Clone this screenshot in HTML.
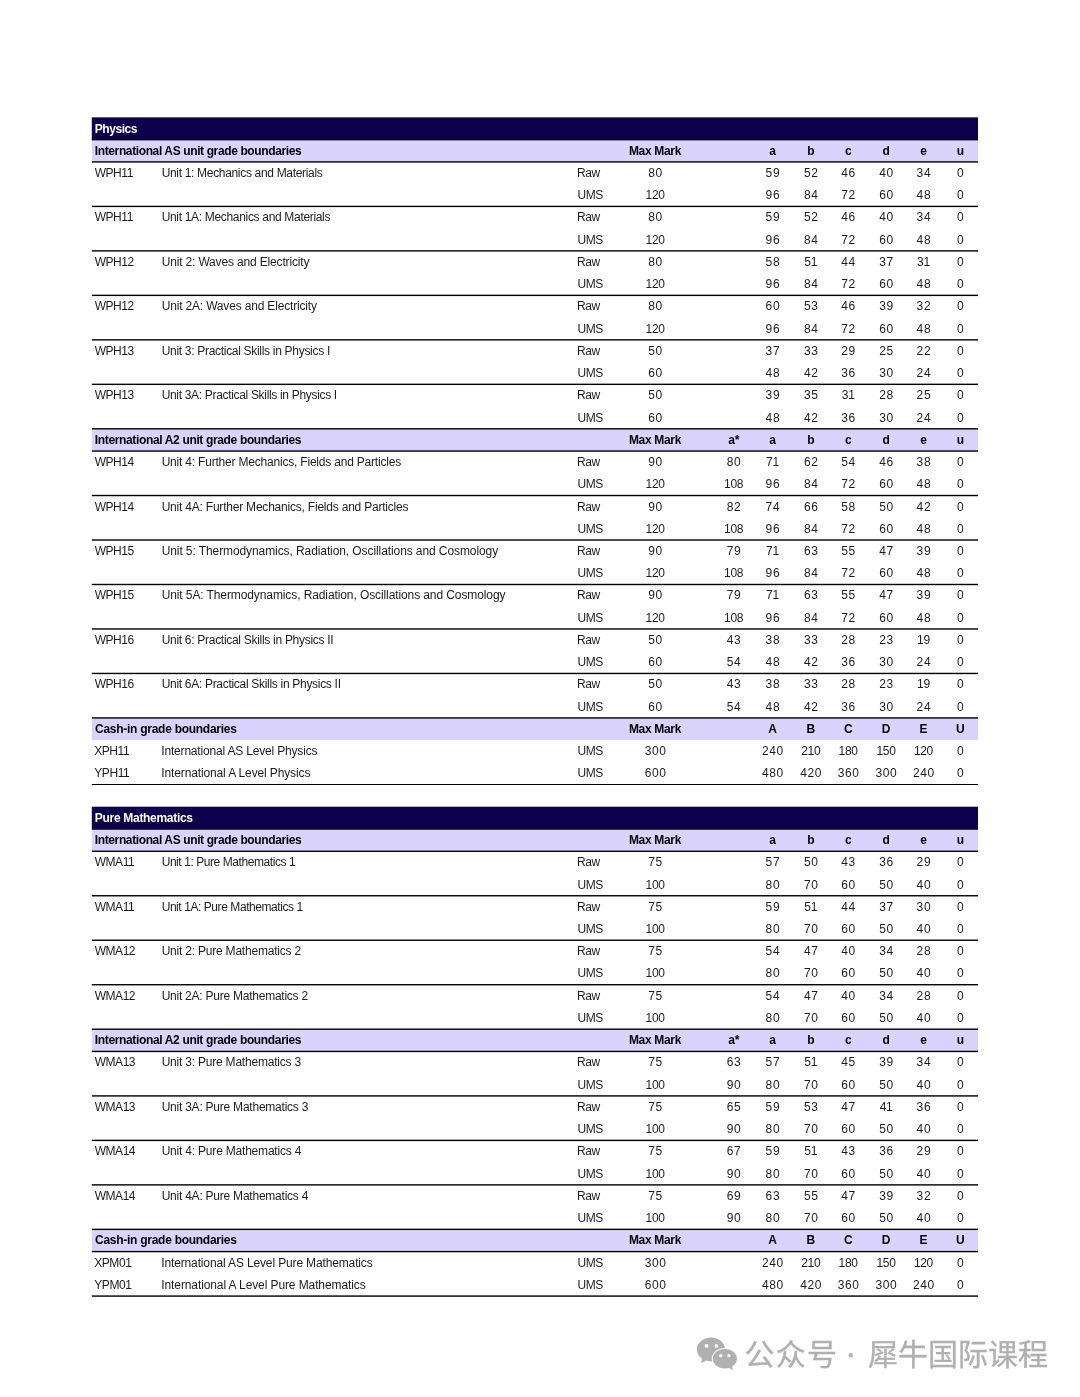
<!DOCTYPE html>
<html lang="en"><head><meta charset="utf-8"><title>Grade boundaries</title>
<style>
html,body{margin:0;padding:0;background:#fff}
body{width:1080px;height:1397px;position:relative;overflow:hidden;font-family:"Liberation Sans","Noto Sans CJK SC",sans-serif;font-size:12px;color:#1c1c1c}
#shapes{position:absolute;left:0;top:0;width:1080px;height:1397px}
.row{position:absolute;left:0;width:1080px;height:22.24px;line-height:22.24px;white-space:nowrap}
.row span{position:absolute;top:0;height:22.24px}
.row .c{width:60px;text-align:center;letter-spacing:.6px;text-indent:.6px}
.row .c.t{letter-spacing:-.3px;text-indent:-.3px}
.row .c.b{letter-spacing:0;text-indent:0}
.b{font-weight:bold;font-size:12px;color:#000}

.ttl .b{color:#fff}
#wm{position:absolute;left:0;top:0;width:1080px;height:0}
#wx{position:absolute;left:694px;top:1333px}
.wmt{position:absolute;left:744.5px;top:1334.5px;height:40px;line-height:40px;white-space:nowrap;color:#b0b0b0;font-family:"Liberation Sans","Noto Sans CJK SC",sans-serif;font-size:30px;word-spacing:2.2px;-webkit-text-stroke:.35px #b0b0b0}
.g1{letter-spacing:1.2px}
.dot{position:relative;left:-2.4px;top:-0.8px;font-size:34px;line-height:30px;margin-right:-1.3px}
</style></head>
<body>
<svg id="shapes" width="1080" height="1397" viewBox="0 0 1080 1397">
<rect x="91.8" y="117.35" width="886.2" height="22.24" fill="#0d004d"/>
<rect x="91.8" y="139.59" width="886.2" height="22.24" fill="#d9d3fe"/>
<rect x="91.8" y="428.71" width="886.2" height="22.24" fill="#d9d3fe"/>
<rect x="91.8" y="717.83" width="886.2" height="22.24" fill="#d9d3fe"/>
<rect x="91.8" y="806.7" width="886.2" height="22.24" fill="#0d004d"/>
<rect x="91.8" y="828.94" width="886.2" height="22.24" fill="#d9d3fe"/>
<rect x="91.8" y="1029.1" width="886.2" height="22.24" fill="#d9d3fe"/>
<rect x="91.8" y="1229.26" width="886.2" height="22.24" fill="#d9d3fe"/>
<rect x="91.8" y="138.99" width="886.2" height="1.4" fill="#000"/>
<rect x="91.8" y="161.23" width="886.2" height="1.4" fill="#000"/>
<rect x="91.8" y="205.71" width="886.2" height="1.4" fill="#000"/>
<rect x="91.8" y="250.19" width="886.2" height="1.4" fill="#000"/>
<rect x="91.8" y="294.67" width="886.2" height="1.4" fill="#000"/>
<rect x="91.8" y="339.15" width="886.2" height="1.4" fill="#000"/>
<rect x="91.8" y="383.63" width="886.2" height="1.4" fill="#000"/>
<rect x="91.8" y="428.11" width="886.2" height="1.4" fill="#000"/>
<rect x="91.8" y="450.35" width="886.2" height="1.4" fill="#000"/>
<rect x="91.8" y="494.83" width="886.2" height="1.4" fill="#000"/>
<rect x="91.8" y="539.31" width="886.2" height="1.4" fill="#000"/>
<rect x="91.8" y="583.79" width="886.2" height="1.4" fill="#000"/>
<rect x="91.8" y="628.27" width="886.2" height="1.4" fill="#000"/>
<rect x="91.8" y="672.75" width="886.2" height="1.4" fill="#000"/>
<rect x="91.8" y="717.23" width="886.2" height="1.4" fill="#000"/>
<rect x="91.8" y="784" width="886.2" height="1" fill="#000"/>
<rect x="91.8" y="828.34" width="886.2" height="1.4" fill="#000"/>
<rect x="91.8" y="850.58" width="886.2" height="1.4" fill="#000"/>
<rect x="91.8" y="895.06" width="886.2" height="1.4" fill="#000"/>
<rect x="91.8" y="939.54" width="886.2" height="1.4" fill="#000"/>
<rect x="91.8" y="984.02" width="886.2" height="1.4" fill="#000"/>
<rect x="91.8" y="1028.5" width="886.2" height="1.4" fill="#000"/>
<rect x="91.8" y="1050.74" width="886.2" height="1.4" fill="#000"/>
<rect x="91.8" y="1095.22" width="886.2" height="1.4" fill="#000"/>
<rect x="91.8" y="1139.7" width="886.2" height="1.4" fill="#000"/>
<rect x="91.8" y="1184.18" width="886.2" height="1.4" fill="#000"/>
<rect x="91.8" y="1228.66" width="886.2" height="1.4" fill="#000"/>
<rect x="91.8" y="1250.9" width="886.2" height="1.4" fill="#000"/>
<rect x="91.8" y="1295.38" width="886.2" height="1.4" fill="#000"/>
</svg>
<section class="tbl">
<div class="row ttl" style="top:117.55px"><span class="l b" style="left:94.82px;letter-spacing:-0.45px">Physics</span></div>
<div class="row sub" style="top:139.79px"><span class="l b" style="left:94.8px;letter-spacing:-0.38px">International AS unit grade boundaries</span><span class="l b" style="left:628.91px;letter-spacing:-0.32px">Max Mark</span><span class="c b" style="left:742.6px">a</span><span class="c b" style="left:780.9px">b</span><span class="c b" style="left:818.3px">c</span><span class="c b" style="left:856.2px">d</span><span class="c b" style="left:893.6px">e</span><span class="c b" style="left:930.3px">u</span></div>
<div class="row dat" style="top:161.93px"><span class="l" style="left:94.66px;letter-spacing:-0.45px">WPH11</span><span class="l" style="left:161.65px;letter-spacing:-0.32px">Unit 1: Mechanics and Materials</span><span class="l" style="left:576.97px;letter-spacing:-0.45px">Raw</span><span class="c" style="left:625.3px">80</span><span class="c" style="left:742.6px">59</span><span class="c" style="left:780.9px">52</span><span class="c" style="left:818.3px">46</span><span class="c" style="left:856.2px">40</span><span class="c" style="left:893.6px">34</span><span class="c" style="left:930.3px">0</span></div>
<div class="row dat" style="top:184.17px"><span class="l" style="left:577.49px;letter-spacing:-0.45px">UMS</span><span class="c t" style="left:625.3px">120</span><span class="c" style="left:742.6px">96</span><span class="c" style="left:780.9px">84</span><span class="c" style="left:818.3px">72</span><span class="c" style="left:856.2px">60</span><span class="c" style="left:893.6px">48</span><span class="c" style="left:930.3px">0</span></div>
<div class="row dat" style="top:206.41px"><span class="l" style="left:94.66px;letter-spacing:-0.45px">WPH11</span><span class="l" style="left:161.65px;letter-spacing:-0.32px">Unit 1A: Mechanics and Materials</span><span class="l" style="left:576.97px;letter-spacing:-0.45px">Raw</span><span class="c" style="left:625.3px">80</span><span class="c" style="left:742.6px">59</span><span class="c" style="left:780.9px">52</span><span class="c" style="left:818.3px">46</span><span class="c" style="left:856.2px">40</span><span class="c" style="left:893.6px">34</span><span class="c" style="left:930.3px">0</span></div>
<div class="row dat" style="top:228.65px"><span class="l" style="left:577.49px;letter-spacing:-0.45px">UMS</span><span class="c t" style="left:625.3px">120</span><span class="c" style="left:742.6px">96</span><span class="c" style="left:780.9px">84</span><span class="c" style="left:818.3px">72</span><span class="c" style="left:856.2px">60</span><span class="c" style="left:893.6px">48</span><span class="c" style="left:930.3px">0</span></div>
<div class="row dat" style="top:250.89px"><span class="l" style="left:94.66px;letter-spacing:-0.45px">WPH12</span><span class="l" style="left:161.65px;letter-spacing:-0.16px">Unit 2: Waves and Electricity</span><span class="l" style="left:576.97px;letter-spacing:-0.45px">Raw</span><span class="c" style="left:625.3px">80</span><span class="c" style="left:742.6px">58</span><span class="c t" style="left:780.9px">51</span><span class="c" style="left:818.3px">44</span><span class="c" style="left:856.2px">37</span><span class="c t" style="left:893.6px">31</span><span class="c" style="left:930.3px">0</span></div>
<div class="row dat" style="top:273.13px"><span class="l" style="left:577.49px;letter-spacing:-0.45px">UMS</span><span class="c t" style="left:625.3px">120</span><span class="c" style="left:742.6px">96</span><span class="c" style="left:780.9px">84</span><span class="c" style="left:818.3px">72</span><span class="c" style="left:856.2px">60</span><span class="c" style="left:893.6px">48</span><span class="c" style="left:930.3px">0</span></div>
<div class="row dat" style="top:295.37px"><span class="l" style="left:94.66px;letter-spacing:-0.45px">WPH12</span><span class="l" style="left:161.65px;letter-spacing:-0.17px">Unit 2A: Waves and Electricity</span><span class="l" style="left:576.97px;letter-spacing:-0.45px">Raw</span><span class="c" style="left:625.3px">80</span><span class="c" style="left:742.6px">60</span><span class="c" style="left:780.9px">53</span><span class="c" style="left:818.3px">46</span><span class="c" style="left:856.2px">39</span><span class="c" style="left:893.6px">32</span><span class="c" style="left:930.3px">0</span></div>
<div class="row dat" style="top:317.61px"><span class="l" style="left:577.49px;letter-spacing:-0.45px">UMS</span><span class="c t" style="left:625.3px">120</span><span class="c" style="left:742.6px">96</span><span class="c" style="left:780.9px">84</span><span class="c" style="left:818.3px">72</span><span class="c" style="left:856.2px">60</span><span class="c" style="left:893.6px">48</span><span class="c" style="left:930.3px">0</span></div>
<div class="row dat" style="top:339.85px"><span class="l" style="left:94.66px;letter-spacing:-0.45px">WPH13</span><span class="l" style="left:161.65px;letter-spacing:-0.30px">Unit 3: Practical Skills in Physics I</span><span class="l" style="left:576.97px;letter-spacing:-0.45px">Raw</span><span class="c" style="left:625.3px">50</span><span class="c" style="left:742.6px">37</span><span class="c" style="left:780.9px">33</span><span class="c" style="left:818.3px">29</span><span class="c" style="left:856.2px">25</span><span class="c" style="left:893.6px">22</span><span class="c" style="left:930.3px">0</span></div>
<div class="row dat" style="top:362.09px"><span class="l" style="left:577.49px;letter-spacing:-0.45px">UMS</span><span class="c" style="left:625.3px">60</span><span class="c" style="left:742.6px">48</span><span class="c" style="left:780.9px">42</span><span class="c" style="left:818.3px">36</span><span class="c" style="left:856.2px">30</span><span class="c" style="left:893.6px">24</span><span class="c" style="left:930.3px">0</span></div>
<div class="row dat" style="top:384.33px"><span class="l" style="left:94.66px;letter-spacing:-0.45px">WPH13</span><span class="l" style="left:161.65px;letter-spacing:-0.32px">Unit 3A: Practical Skills in Physics I</span><span class="l" style="left:576.97px;letter-spacing:-0.45px">Raw</span><span class="c" style="left:625.3px">50</span><span class="c" style="left:742.6px">39</span><span class="c" style="left:780.9px">35</span><span class="c t" style="left:818.3px">31</span><span class="c" style="left:856.2px">28</span><span class="c" style="left:893.6px">25</span><span class="c" style="left:930.3px">0</span></div>
<div class="row dat" style="top:406.57px"><span class="l" style="left:577.49px;letter-spacing:-0.45px">UMS</span><span class="c" style="left:625.3px">60</span><span class="c" style="left:742.6px">48</span><span class="c" style="left:780.9px">42</span><span class="c" style="left:818.3px">36</span><span class="c" style="left:856.2px">30</span><span class="c" style="left:893.6px">24</span><span class="c" style="left:930.3px">0</span></div>
<div class="row sub" style="top:428.91px"><span class="l b" style="left:94.8px;letter-spacing:-0.35px">International A2 unit grade boundaries</span><span class="l b" style="left:628.91px;letter-spacing:-0.32px">Max Mark</span><span class="c b" style="left:703.8px">a*</span><span class="c b" style="left:742.6px">a</span><span class="c b" style="left:780.9px">b</span><span class="c b" style="left:818.3px">c</span><span class="c b" style="left:856.2px">d</span><span class="c b" style="left:893.6px">e</span><span class="c b" style="left:930.3px">u</span></div>
<div class="row dat" style="top:451.05px"><span class="l" style="left:94.66px;letter-spacing:-0.45px">WPH14</span><span class="l" style="left:161.65px;letter-spacing:-0.20px">Unit 4: Further Mechanics, Fields and Particles</span><span class="l" style="left:576.97px;letter-spacing:-0.45px">Raw</span><span class="c" style="left:625.3px">90</span><span class="c" style="left:703.8px">80</span><span class="c t" style="left:742.6px">71</span><span class="c" style="left:780.9px">62</span><span class="c" style="left:818.3px">54</span><span class="c" style="left:856.2px">46</span><span class="c" style="left:893.6px">38</span><span class="c" style="left:930.3px">0</span></div>
<div class="row dat" style="top:473.29px"><span class="l" style="left:577.49px;letter-spacing:-0.45px">UMS</span><span class="c t" style="left:625.3px">120</span><span class="c t" style="left:703.8px">108</span><span class="c" style="left:742.6px">96</span><span class="c" style="left:780.9px">84</span><span class="c" style="left:818.3px">72</span><span class="c" style="left:856.2px">60</span><span class="c" style="left:893.6px">48</span><span class="c" style="left:930.3px">0</span></div>
<div class="row dat" style="top:495.53px"><span class="l" style="left:94.66px;letter-spacing:-0.45px">WPH14</span><span class="l" style="left:161.65px;letter-spacing:-0.21px">Unit 4A: Further Mechanics, Fields and Particles</span><span class="l" style="left:576.97px;letter-spacing:-0.45px">Raw</span><span class="c" style="left:625.3px">90</span><span class="c" style="left:703.8px">82</span><span class="c" style="left:742.6px">74</span><span class="c" style="left:780.9px">66</span><span class="c" style="left:818.3px">58</span><span class="c" style="left:856.2px">50</span><span class="c" style="left:893.6px">42</span><span class="c" style="left:930.3px">0</span></div>
<div class="row dat" style="top:517.77px"><span class="l" style="left:577.49px;letter-spacing:-0.45px">UMS</span><span class="c t" style="left:625.3px">120</span><span class="c t" style="left:703.8px">108</span><span class="c" style="left:742.6px">96</span><span class="c" style="left:780.9px">84</span><span class="c" style="left:818.3px">72</span><span class="c" style="left:856.2px">60</span><span class="c" style="left:893.6px">48</span><span class="c" style="left:930.3px">0</span></div>
<div class="row dat" style="top:540.01px"><span class="l" style="left:94.66px;letter-spacing:-0.45px">WPH15</span><span class="l" style="left:161.65px;letter-spacing:-0.09px">Unit 5: Thermodynamics, Radiation, Oscillations and Cosmology</span><span class="l" style="left:576.97px;letter-spacing:-0.45px">Raw</span><span class="c" style="left:625.3px">90</span><span class="c" style="left:703.8px">79</span><span class="c t" style="left:742.6px">71</span><span class="c" style="left:780.9px">63</span><span class="c" style="left:818.3px">55</span><span class="c" style="left:856.2px">47</span><span class="c" style="left:893.6px">39</span><span class="c" style="left:930.3px">0</span></div>
<div class="row dat" style="top:562.25px"><span class="l" style="left:577.49px;letter-spacing:-0.45px">UMS</span><span class="c t" style="left:625.3px">120</span><span class="c t" style="left:703.8px">108</span><span class="c" style="left:742.6px">96</span><span class="c" style="left:780.9px">84</span><span class="c" style="left:818.3px">72</span><span class="c" style="left:856.2px">60</span><span class="c" style="left:893.6px">48</span><span class="c" style="left:930.3px">0</span></div>
<div class="row dat" style="top:584.49px"><span class="l" style="left:94.66px;letter-spacing:-0.45px">WPH15</span><span class="l" style="left:161.65px;letter-spacing:-0.10px">Unit 5A: Thermodynamics, Radiation, Oscillations and Cosmology</span><span class="l" style="left:576.97px;letter-spacing:-0.45px">Raw</span><span class="c" style="left:625.3px">90</span><span class="c" style="left:703.8px">79</span><span class="c t" style="left:742.6px">71</span><span class="c" style="left:780.9px">63</span><span class="c" style="left:818.3px">55</span><span class="c" style="left:856.2px">47</span><span class="c" style="left:893.6px">39</span><span class="c" style="left:930.3px">0</span></div>
<div class="row dat" style="top:606.73px"><span class="l" style="left:577.49px;letter-spacing:-0.45px">UMS</span><span class="c t" style="left:625.3px">120</span><span class="c t" style="left:703.8px">108</span><span class="c" style="left:742.6px">96</span><span class="c" style="left:780.9px">84</span><span class="c" style="left:818.3px">72</span><span class="c" style="left:856.2px">60</span><span class="c" style="left:893.6px">48</span><span class="c" style="left:930.3px">0</span></div>
<div class="row dat" style="top:628.97px"><span class="l" style="left:94.66px;letter-spacing:-0.45px">WPH16</span><span class="l" style="left:161.65px;letter-spacing:-0.29px">Unit 6: Practical Skills in Physics II</span><span class="l" style="left:576.97px;letter-spacing:-0.45px">Raw</span><span class="c" style="left:625.3px">50</span><span class="c" style="left:703.8px">43</span><span class="c" style="left:742.6px">38</span><span class="c" style="left:780.9px">33</span><span class="c" style="left:818.3px">28</span><span class="c" style="left:856.2px">23</span><span class="c t" style="left:893.6px">19</span><span class="c" style="left:930.3px">0</span></div>
<div class="row dat" style="top:651.21px"><span class="l" style="left:577.49px;letter-spacing:-0.45px">UMS</span><span class="c" style="left:625.3px">60</span><span class="c" style="left:703.8px">54</span><span class="c" style="left:742.6px">48</span><span class="c" style="left:780.9px">42</span><span class="c" style="left:818.3px">36</span><span class="c" style="left:856.2px">30</span><span class="c" style="left:893.6px">24</span><span class="c" style="left:930.3px">0</span></div>
<div class="row dat" style="top:673.45px"><span class="l" style="left:94.66px;letter-spacing:-0.45px">WPH16</span><span class="l" style="left:161.65px;letter-spacing:-0.30px">Unit 6A: Practical Skills in Physics II</span><span class="l" style="left:576.97px;letter-spacing:-0.45px">Raw</span><span class="c" style="left:625.3px">50</span><span class="c" style="left:703.8px">43</span><span class="c" style="left:742.6px">38</span><span class="c" style="left:780.9px">33</span><span class="c" style="left:818.3px">28</span><span class="c" style="left:856.2px">23</span><span class="c t" style="left:893.6px">19</span><span class="c" style="left:930.3px">0</span></div>
<div class="row dat" style="top:695.69px"><span class="l" style="left:577.49px;letter-spacing:-0.45px">UMS</span><span class="c" style="left:625.3px">60</span><span class="c" style="left:703.8px">54</span><span class="c" style="left:742.6px">48</span><span class="c" style="left:780.9px">42</span><span class="c" style="left:818.3px">36</span><span class="c" style="left:856.2px">30</span><span class="c" style="left:893.6px">24</span><span class="c" style="left:930.3px">0</span></div>
<div class="row sub" style="top:718.03px"><span class="l b" style="left:95.07px;letter-spacing:-0.27px">Cash-in grade boundaries</span><span class="l b" style="left:628.91px;letter-spacing:-0.32px">Max Mark</span><span class="c b" style="left:742.6px">A</span><span class="c b" style="left:780.9px">B</span><span class="c b" style="left:818.3px">C</span><span class="c b" style="left:856.2px">D</span><span class="c b" style="left:893.6px">E</span><span class="c b" style="left:930.3px">U</span></div>
<div class="row dat" style="top:740.17px"><span class="l" style="left:94.25px;letter-spacing:-0.45px">XPH11</span><span class="l" style="left:161.28px;letter-spacing:-0.18px">International AS Level Physics</span><span class="l" style="left:577.49px;letter-spacing:-0.45px">UMS</span><span class="c" style="left:625.3px">300</span><span class="c" style="left:742.6px">240</span><span class="c t" style="left:780.9px">210</span><span class="c t" style="left:818.3px">180</span><span class="c t" style="left:856.2px">150</span><span class="c t" style="left:893.6px">120</span><span class="c" style="left:930.3px">0</span></div>
<div class="row dat" style="top:762.41px"><span class="l" style="left:94.32px;letter-spacing:-0.45px">YPH11</span><span class="l" style="left:161.28px;letter-spacing:-0.13px">International A Level Physics</span><span class="l" style="left:577.49px;letter-spacing:-0.45px">UMS</span><span class="c" style="left:625.3px">600</span><span class="c" style="left:742.6px">480</span><span class="c" style="left:780.9px">420</span><span class="c" style="left:818.3px">360</span><span class="c" style="left:856.2px">300</span><span class="c" style="left:893.6px">240</span><span class="c" style="left:930.3px">0</span></div>
</section>
<section class="tbl">
<div class="row ttl" style="top:806.9px"><span class="l b" style="left:94.82px;letter-spacing:-0.30px">Pure Mathematics</span></div>
<div class="row sub" style="top:829.14px"><span class="l b" style="left:94.8px;letter-spacing:-0.38px">International AS unit grade boundaries</span><span class="l b" style="left:628.91px;letter-spacing:-0.32px">Max Mark</span><span class="c b" style="left:742.6px">a</span><span class="c b" style="left:780.9px">b</span><span class="c b" style="left:818.3px">c</span><span class="c b" style="left:856.2px">d</span><span class="c b" style="left:893.6px">e</span><span class="c b" style="left:930.3px">u</span></div>
<div class="row dat" style="top:851.28px"><span class="l" style="left:94.66px;letter-spacing:-0.45px">WMA11</span><span class="l" style="left:161.65px;letter-spacing:-0.43px">Unit 1: Pure Mathematics 1</span><span class="l" style="left:576.97px;letter-spacing:-0.45px">Raw</span><span class="c" style="left:625.3px">75</span><span class="c" style="left:742.6px">57</span><span class="c" style="left:780.9px">50</span><span class="c" style="left:818.3px">43</span><span class="c" style="left:856.2px">36</span><span class="c" style="left:893.6px">29</span><span class="c" style="left:930.3px">0</span></div>
<div class="row dat" style="top:873.52px"><span class="l" style="left:577.49px;letter-spacing:-0.45px">UMS</span><span class="c t" style="left:625.3px">100</span><span class="c" style="left:742.6px">80</span><span class="c" style="left:780.9px">70</span><span class="c" style="left:818.3px">60</span><span class="c" style="left:856.2px">50</span><span class="c" style="left:893.6px">40</span><span class="c" style="left:930.3px">0</span></div>
<div class="row dat" style="top:895.76px"><span class="l" style="left:94.66px;letter-spacing:-0.45px">WMA11</span><span class="l" style="left:161.65px;letter-spacing:-0.43px">Unit 1A: Pure Mathematics 1</span><span class="l" style="left:576.97px;letter-spacing:-0.45px">Raw</span><span class="c" style="left:625.3px">75</span><span class="c" style="left:742.6px">59</span><span class="c t" style="left:780.9px">51</span><span class="c" style="left:818.3px">44</span><span class="c" style="left:856.2px">37</span><span class="c" style="left:893.6px">30</span><span class="c" style="left:930.3px">0</span></div>
<div class="row dat" style="top:918px"><span class="l" style="left:577.49px;letter-spacing:-0.45px">UMS</span><span class="c t" style="left:625.3px">100</span><span class="c" style="left:742.6px">80</span><span class="c" style="left:780.9px">70</span><span class="c" style="left:818.3px">60</span><span class="c" style="left:856.2px">50</span><span class="c" style="left:893.6px">40</span><span class="c" style="left:930.3px">0</span></div>
<div class="row dat" style="top:940.24px"><span class="l" style="left:94.66px;letter-spacing:-0.45px">WMA12</span><span class="l" style="left:161.65px;letter-spacing:-0.21px">Unit 2: Pure Mathematics 2</span><span class="l" style="left:576.97px;letter-spacing:-0.45px">Raw</span><span class="c" style="left:625.3px">75</span><span class="c" style="left:742.6px">54</span><span class="c" style="left:780.9px">47</span><span class="c" style="left:818.3px">40</span><span class="c" style="left:856.2px">34</span><span class="c" style="left:893.6px">28</span><span class="c" style="left:930.3px">0</span></div>
<div class="row dat" style="top:962.48px"><span class="l" style="left:577.49px;letter-spacing:-0.45px">UMS</span><span class="c t" style="left:625.3px">100</span><span class="c" style="left:742.6px">80</span><span class="c" style="left:780.9px">70</span><span class="c" style="left:818.3px">60</span><span class="c" style="left:856.2px">50</span><span class="c" style="left:893.6px">40</span><span class="c" style="left:930.3px">0</span></div>
<div class="row dat" style="top:984.72px"><span class="l" style="left:94.66px;letter-spacing:-0.45px">WMA12</span><span class="l" style="left:161.65px;letter-spacing:-0.24px">Unit 2A: Pure Mathematics 2</span><span class="l" style="left:576.97px;letter-spacing:-0.45px">Raw</span><span class="c" style="left:625.3px">75</span><span class="c" style="left:742.6px">54</span><span class="c" style="left:780.9px">47</span><span class="c" style="left:818.3px">40</span><span class="c" style="left:856.2px">34</span><span class="c" style="left:893.6px">28</span><span class="c" style="left:930.3px">0</span></div>
<div class="row dat" style="top:1006.96px"><span class="l" style="left:577.49px;letter-spacing:-0.45px">UMS</span><span class="c t" style="left:625.3px">100</span><span class="c" style="left:742.6px">80</span><span class="c" style="left:780.9px">70</span><span class="c" style="left:818.3px">60</span><span class="c" style="left:856.2px">50</span><span class="c" style="left:893.6px">40</span><span class="c" style="left:930.3px">0</span></div>
<div class="row sub" style="top:1029.3px"><span class="l b" style="left:94.8px;letter-spacing:-0.35px">International A2 unit grade boundaries</span><span class="l b" style="left:628.91px;letter-spacing:-0.32px">Max Mark</span><span class="c b" style="left:703.8px">a*</span><span class="c b" style="left:742.6px">a</span><span class="c b" style="left:780.9px">b</span><span class="c b" style="left:818.3px">c</span><span class="c b" style="left:856.2px">d</span><span class="c b" style="left:893.6px">e</span><span class="c b" style="left:930.3px">u</span></div>
<div class="row dat" style="top:1051.44px"><span class="l" style="left:94.66px;letter-spacing:-0.45px">WMA13</span><span class="l" style="left:161.65px;letter-spacing:-0.21px">Unit 3: Pure Mathematics 3</span><span class="l" style="left:576.97px;letter-spacing:-0.45px">Raw</span><span class="c" style="left:625.3px">75</span><span class="c" style="left:703.8px">63</span><span class="c" style="left:742.6px">57</span><span class="c t" style="left:780.9px">51</span><span class="c" style="left:818.3px">45</span><span class="c" style="left:856.2px">39</span><span class="c" style="left:893.6px">34</span><span class="c" style="left:930.3px">0</span></div>
<div class="row dat" style="top:1073.68px"><span class="l" style="left:577.49px;letter-spacing:-0.45px">UMS</span><span class="c t" style="left:625.3px">100</span><span class="c" style="left:703.8px">90</span><span class="c" style="left:742.6px">80</span><span class="c" style="left:780.9px">70</span><span class="c" style="left:818.3px">60</span><span class="c" style="left:856.2px">50</span><span class="c" style="left:893.6px">40</span><span class="c" style="left:930.3px">0</span></div>
<div class="row dat" style="top:1095.92px"><span class="l" style="left:94.66px;letter-spacing:-0.45px">WMA13</span><span class="l" style="left:161.65px;letter-spacing:-0.23px">Unit 3A: Pure Mathematics 3</span><span class="l" style="left:576.97px;letter-spacing:-0.45px">Raw</span><span class="c" style="left:625.3px">75</span><span class="c" style="left:703.8px">65</span><span class="c" style="left:742.6px">59</span><span class="c" style="left:780.9px">53</span><span class="c" style="left:818.3px">47</span><span class="c t" style="left:856.2px">41</span><span class="c" style="left:893.6px">36</span><span class="c" style="left:930.3px">0</span></div>
<div class="row dat" style="top:1118.16px"><span class="l" style="left:577.49px;letter-spacing:-0.45px">UMS</span><span class="c t" style="left:625.3px">100</span><span class="c" style="left:703.8px">90</span><span class="c" style="left:742.6px">80</span><span class="c" style="left:780.9px">70</span><span class="c" style="left:818.3px">60</span><span class="c" style="left:856.2px">50</span><span class="c" style="left:893.6px">40</span><span class="c" style="left:930.3px">0</span></div>
<div class="row dat" style="top:1140.4px"><span class="l" style="left:94.66px;letter-spacing:-0.45px">WMA14</span><span class="l" style="left:161.65px;letter-spacing:-0.20px">Unit 4: Pure Mathematics 4</span><span class="l" style="left:576.97px;letter-spacing:-0.45px">Raw</span><span class="c" style="left:625.3px">75</span><span class="c" style="left:703.8px">67</span><span class="c" style="left:742.6px">59</span><span class="c t" style="left:780.9px">51</span><span class="c" style="left:818.3px">43</span><span class="c" style="left:856.2px">36</span><span class="c" style="left:893.6px">29</span><span class="c" style="left:930.3px">0</span></div>
<div class="row dat" style="top:1162.64px"><span class="l" style="left:577.49px;letter-spacing:-0.45px">UMS</span><span class="c t" style="left:625.3px">100</span><span class="c" style="left:703.8px">90</span><span class="c" style="left:742.6px">80</span><span class="c" style="left:780.9px">70</span><span class="c" style="left:818.3px">60</span><span class="c" style="left:856.2px">50</span><span class="c" style="left:893.6px">40</span><span class="c" style="left:930.3px">0</span></div>
<div class="row dat" style="top:1184.88px"><span class="l" style="left:94.66px;letter-spacing:-0.45px">WMA14</span><span class="l" style="left:161.65px;letter-spacing:-0.23px">Unit 4A: Pure Mathematics 4</span><span class="l" style="left:576.97px;letter-spacing:-0.45px">Raw</span><span class="c" style="left:625.3px">75</span><span class="c" style="left:703.8px">69</span><span class="c" style="left:742.6px">63</span><span class="c" style="left:780.9px">55</span><span class="c" style="left:818.3px">47</span><span class="c" style="left:856.2px">39</span><span class="c" style="left:893.6px">32</span><span class="c" style="left:930.3px">0</span></div>
<div class="row dat" style="top:1207.12px"><span class="l" style="left:577.49px;letter-spacing:-0.45px">UMS</span><span class="c t" style="left:625.3px">100</span><span class="c" style="left:703.8px">90</span><span class="c" style="left:742.6px">80</span><span class="c" style="left:780.9px">70</span><span class="c" style="left:818.3px">60</span><span class="c" style="left:856.2px">50</span><span class="c" style="left:893.6px">40</span><span class="c" style="left:930.3px">0</span></div>
<div class="row sub" style="top:1229.46px"><span class="l b" style="left:95.07px;letter-spacing:-0.27px">Cash-in grade boundaries</span><span class="l b" style="left:628.91px;letter-spacing:-0.32px">Max Mark</span><span class="c b" style="left:742.6px">A</span><span class="c b" style="left:780.9px">B</span><span class="c b" style="left:818.3px">C</span><span class="c b" style="left:856.2px">D</span><span class="c b" style="left:893.6px">E</span><span class="c b" style="left:930.3px">U</span></div>
<div class="row dat" style="top:1251.6px"><span class="l" style="left:94.25px;letter-spacing:-0.45px">XPM01</span><span class="l" style="left:161.28px;letter-spacing:-0.14px">International AS Level Pure Mathematics</span><span class="l" style="left:577.49px;letter-spacing:-0.45px">UMS</span><span class="c" style="left:625.3px">300</span><span class="c" style="left:742.6px">240</span><span class="c t" style="left:780.9px">210</span><span class="c t" style="left:818.3px">180</span><span class="c t" style="left:856.2px">150</span><span class="c t" style="left:893.6px">120</span><span class="c" style="left:930.3px">0</span></div>
<div class="row dat" style="top:1273.84px"><span class="l" style="left:94.32px;letter-spacing:-0.45px">YPM01</span><span class="l" style="left:161.28px;letter-spacing:-0.10px">International A Level Pure Mathematics</span><span class="l" style="left:577.49px;letter-spacing:-0.45px">UMS</span><span class="c" style="left:625.3px">600</span><span class="c" style="left:742.6px">480</span><span class="c" style="left:780.9px">420</span><span class="c" style="left:818.3px">360</span><span class="c" style="left:856.2px">300</span><span class="c" style="left:893.6px">240</span><span class="c" style="left:930.3px">0</span></div>
</section>
<div id="wm">
<svg id="wx" width="46" height="40" viewBox="694 1333 46 40" aria-label="WeChat">
<g fill="#b0b0b0">
<path d="M711 1337.6c-7.8 0-14.1 5.3-14.1 11.9 0 3.7 2 7 5.2 9.2l-1 4.6 4.9-2.7c1.6.5 3.300 .8 5 .8 7.8 0 14.1-5.300 14.1-11.900s-6.300-11.900-14.100-11.900z"/>
<path d="M724.9 1348.900c-6.700 0-12.150 4.400-12.150 9.800s5.450 9.800 12.150 9.800c1.400 0 2.700-.2 3.900-.5l4.100 2.100-.9-3.700c3.050-1.800 5-4.600 5-7.700 0-5.400-5.400-9.800-12.100-9.800z" stroke="#fff" stroke-width="2" paint-order="stroke"/>
</g>
<g fill="#fff"><circle cx="706.6" cy="1345.900" r="1.900"/><circle cx="716.4" cy="1345.900" r="1.900"/><circle cx="720.8" cy="1355.700" r="1.600"/><circle cx="728.900" cy="1355.700" r="1.600"/></g>
</svg>
<span class="wmt"><span class="g1">公众</span>号 <span class="dot">·</span> 犀牛国际课程</span></div>
</body></html>
